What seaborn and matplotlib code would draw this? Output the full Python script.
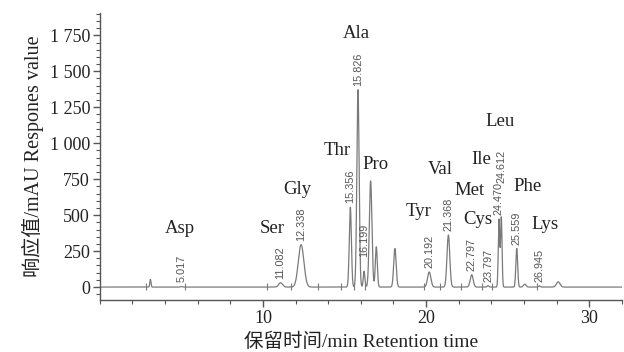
import numpy as np
import matplotlib
matplotlib.use("Agg")
import matplotlib.pyplot as plt
import seaborn as sns
from matplotlib.ticker import MultipleLocator, FixedLocator

# ---------------------------------------------------------
# Peak table
# ---------------------------------------------------------
peak_time = [3.10, 5.017, 11.082, 12.338, 15.356, 15.826, 16.199, 16.60, 16.95,
             18.09, 20.192, 21.368, 22.797, 23.797, 24.470, 24.612, 25.559,
             26.05, 26.945, 28.10]
peak_height = [53, 4, 30, 295, 555, 1372, 110, 738, 280,
               268, 105, 362, 86, 10, 470, 485, 268,
               20, 8, 36]
peak_sigma = [0.035, 0.05, 0.12, 0.17, 0.065, 0.07, 0.05, 0.08, 0.06,
              0.075, 0.10, 0.085, 0.09, 0.05, 0.045, 0.045, 0.055,
              0.08, 0.05, 0.11]

# retention times printed above the peaks
labeled_rt = [5.017, 11.082, 12.338, 15.356, 15.826, 16.199, 20.192, 21.368,
              22.797, 23.797, 24.470, 24.612, 25.559, 26.945]

# amino acid names
amino_names = ["Asp", "Ser", "Gly", "Thr", "Ala", "Pro", "Tyr", "Val",
               "Met", "Ile", "Cys", "Leu", "Phe", "Lys"]

# integration marks on the baseline
marker_times = [2.85, 5.2, 10.25, 11.7, 13.4, 14.8, 15.6, 16.25, 19.9, 20.85,
                22.15, 23.4, 24.05, 26.8]

y_ticks = [0, 250, 500, 750, 1000, 1250, 1500, 1750]
y_tick_labels = ["0", "250", "500", "750", "1 000", "1 250", "1 500", "1 750"]
x_ticks = [10, 20, 30]

# ---------------------------------------------------------
# Build the trace
# ---------------------------------------------------------
t = np.linspace(0, 32, 6401)
signal = np.zeros_like(t)
for mu, h, s in zip(peak_time, peak_height, peak_sigma):
    signal += h * np.exp(-0.5 * ((t - mu) / s) ** 2)

# ---------------------------------------------------------
# Plot
# ---------------------------------------------------------
sns.set_theme(style="ticks")
plt.rcParams["font.family"] = ["Liberation Serif", "Noto Sans CJK SC"]

fig = plt.figure(figsize=(6.24, 3.52), dpi=100)
ax = fig.add_axes([0.160, 0.1477, 0.8365, 0.8153])

sns.lineplot(x=t, y=signal, ax=ax, color="#7a7a7a", linewidth=0.9,
             estimator=None, sort=False)
ax.vlines(marker_times, -20, 25, color="#7a7a7a", linewidth=0.8)

# retention time labels
label_override = {16.199: 209, 24.612: 725}
for rt in labeled_rt:
    y = label_override.get(rt, np.interp(rt, t, signal) + 28)
    ax.text(rt, y, f"{rt:.3f}", rotation=90, ha="center", va="bottom",
            fontsize=7.8, family="Liberation Sans", color="#555555")

# amino acid name positions (data coords)
name_pos = [(4.91, 404), (10.55, 404), (12.09, 676), (14.54, 948),
            (15.71, 1763), (16.93, 850), (19.51, 523), (20.86, 815),
            (22.64, 669), (23.37, 885), (23.19, 467), (24.54, 1150),
            (26.2, 697), (27.3, 432)]
for name, (x, y) in zip(amino_names, name_pos):
    ax.text(x, y, name, ha="center", va="center", fontsize=13.5, color="#222222")

ax.set_xlim(0, 32)
ax.set_ylim(-90, 1905)
ax.xaxis.set_major_locator(FixedLocator(x_ticks))
ax.xaxis.set_minor_locator(MultipleLocator(2))
ax.set_yticks(y_ticks)
ax.set_yticklabels(y_tick_labels)
ax.yaxis.set_minor_locator(MultipleLocator(50))

for side in ["top", "right"]:
    ax.spines[side].set_visible(False)
for side in ["left", "bottom"]:
    ax.spines[side].set_color("#555555")
    ax.spines[side].set_linewidth(1.0)

ax.tick_params(axis="both", which="major", direction="out", length=5,
               width=1.0, color="#555555", labelsize=13, labelcolor="#222222",
               pad=2)
ax.tick_params(axis="both", which="minor", direction="out", length=3,
               width=0.8, color="#555555")

ax.set_xlabel("保留时间/min Retention time", fontsize=14, color="#222222",
              labelpad=4)
ax.set_ylabel("响应值/mAU Respones value", fontsize=14.5, color="#222222",
              labelpad=4)

plt.savefig("out.png", dpi=100)
